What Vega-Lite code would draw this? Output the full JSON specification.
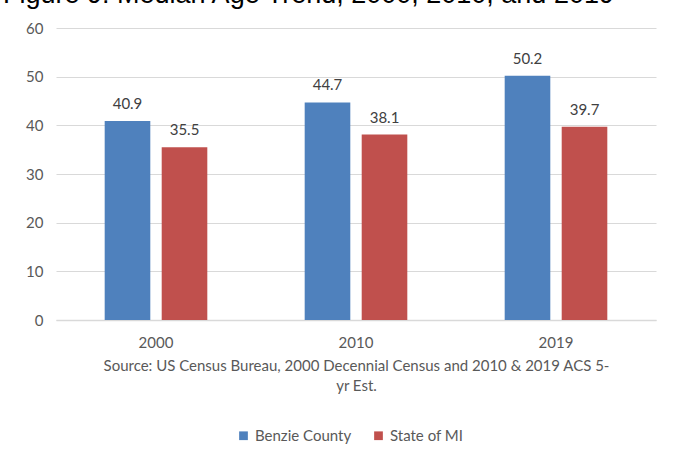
{
  "$schema": "https://vega.github.io/schema/vega-lite/v6.json",
  "autosize": {"type": "none"},
  "width": 600,
  "height": 292,
  "padding": {"left": 56, "top": 28, "right": 22, "bottom": 138},
  "background": "white",
  "title": {
    "text": "Figure 9: Median Age Trend, 2000, 2010, and 2019",
    "anchor": "start",
    "frame": "group",
    "dx": -53,
    "offset": 12,
    "font": "Liberation Sans",
    "fontSize": 27,
    "fontWeight": "normal",
    "color": "#000000"
  },
  "data": {
    "values": [
      {"year": "2000", "area": "Benzie County", "age": 40.9},
      {"year": "2000", "area": "State of MI", "age": 35.5},
      {"year": "2010", "area": "Benzie County", "age": 44.7},
      {"year": "2010", "area": "State of MI", "age": 38.1},
      {"year": "2019", "area": "Benzie County", "age": 50.2},
      {"year": "2019", "area": "State of MI", "age": 39.7}
    ]
  },
  "encoding": {
    "x": {
      "field": "year",
      "type": "nominal",
      "scale": {"paddingInner": 0, "paddingOuter": 0},
      "axis": {
        "title": ["Source:  US Census Bureau, 2000 Decennial Census and 2010 & 2019 ACS 5-", "yr Est."],
        "titleFont": "Lato",
        "titleFontSize": 15,
        "titleFontWeight": "normal",
        "titleColor": "#595959",
        "titleLineHeight": 20,
        "titlePadding": 8,
        "labelAngle": 0,
        "labelFont": "Lato",
        "labelFontSize": 15,
        "labelColor": "#595959",
        "labelPadding": 15,
        "ticks": false,
        "domainColor": "#d9d9d9",
        "domainWidth": 1.5,
        "grid": false
      }
    },
    "xOffset": {
      "field": "area",
      "type": "nominal",
      "scale": {"paddingInner": 0.2, "paddingOuter": 0.854}
    },
    "y": {
      "field": "age",
      "type": "quantitative",
      "scale": {"domain": [0, 60]},
      "axis": {
        "title": null,
        "values": [0, 10, 20, 30, 40, 50, 60],
        "labelFont": "Lato",
        "labelFontSize": 15,
        "labelColor": "#595959",
        "labelPadding": 13,
        "ticks": false,
        "domain": false,
        "gridColor": "#d9d9d9",
        "gridWidth": 1
      }
    }
  },
  "layer": [
    {
      "mark": {"type": "bar"},
      "encoding": {
        "color": {
          "field": "area",
          "type": "nominal",
          "scale": {"domain": ["Benzie County", "State of MI"], "range": ["#4f81bd", "#c0504d"]},
          "legend": {
            "title": null,
            "orient": "none",
            "legendX": 180,
            "legendY": 400,
            "padding": 0,
            "direction": "horizontal",
            "symbolType": "square",
            "symbolSize": 76,
            "symbolStrokeWidth": 0,
            "labelFont": "Lato",
            "labelFontSize": 15,
            "labelColor": "#595959",
            "columnPadding": 19,
            "labelOffset": 4
          }
        }
      }
    },
    {
      "mark": {"type": "text", "baseline": "alphabetic", "dy": -12, "font": "Lato", "fontSize": 15, "color": "#404040"},
      "encoding": {
        "text": {"field": "age", "type": "quantitative", "format": ".1f"}
      }
    }
  ],
  "config": {
    "view": {"stroke": null},
    "bar": {"width": {"band": 1}}
  }
}
